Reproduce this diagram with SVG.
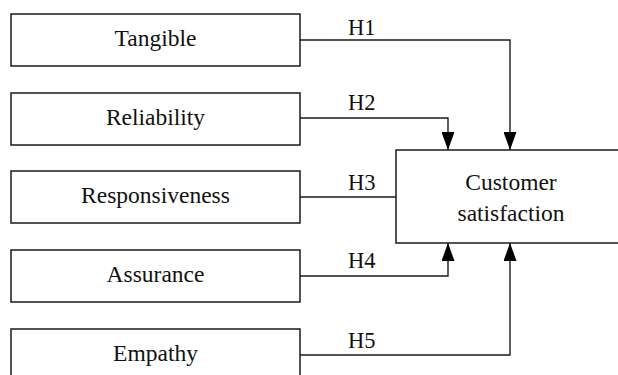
<svg xmlns="http://www.w3.org/2000/svg" width="618" height="375" viewBox="0 0 618 375">
<defs>
<style>
.box{fill:#fff;stroke:#1a1a1a;stroke-width:1.5}
.t{font-family:"Liberation Serif","Times New Roman",serif;font-size:23.5px;fill:#111;text-anchor:middle}
.h{font-family:"Liberation Serif","Times New Roman",serif;font-size:22.5px;fill:#111}
.c{fill:none;stroke:#1a1a1a;stroke-width:1.4}
</style>
<marker id="arr" viewBox="0 0 18 13" refX="18" refY="6.5" markerWidth="18" markerHeight="13" markerUnits="userSpaceOnUse" orient="auto">
<path d="M0,0 L18,6.5 L0,13 Z" fill="#000"/>
</marker>
</defs>
<rect width="618" height="375" fill="#fff"/>
<g id="connectors">
<path class="c" d="M300,40 H510 V150" marker-end="url(#arr)"/>
<path class="c" d="M300,118 H448 V150" marker-end="url(#arr)"/>
<path class="c" d="M300,197 H396"/>
<path class="c" d="M300,276 H448 V243" marker-end="url(#arr)"/>
<path class="c" d="M300,355 H510 V243" marker-end="url(#arr)"/>
<text class="h" x="348" y="35">H1</text>
<text class="h" x="348" y="110">H2</text>
<text class="h" x="348" y="190">H3</text>
<text class="h" x="348" y="268">H4</text>
<text class="h" x="348" y="348">H5</text>
</g>
<g id="tangible"><rect class="box" x="11" y="14" width="289" height="52"/><text class="t" x="155.5" y="46">Tangible</text></g>
<g id="reliability"><rect class="box" x="11" y="93" width="289" height="52"/><text class="t" x="155.5" y="125">Reliability</text></g>
<g id="responsiveness"><rect class="box" x="11" y="171" width="289" height="52"/><text class="t" x="155.5" y="203">Responsiveness</text></g>
<g id="assurance"><rect class="box" x="11" y="250" width="289" height="52"/><text class="t" x="155.5" y="282">Assurance</text></g>
<g id="empathy"><rect class="box" x="11" y="329" width="289" height="52"/><text class="t" x="155.5" y="361">Empathy</text></g>
<g id="customer-satisfaction"><rect class="box" x="396" y="150" width="240" height="93"/><text class="t" x="511" y="190">Customer</text><text class="t" x="511" y="221">satisfaction</text></g>
</svg>
